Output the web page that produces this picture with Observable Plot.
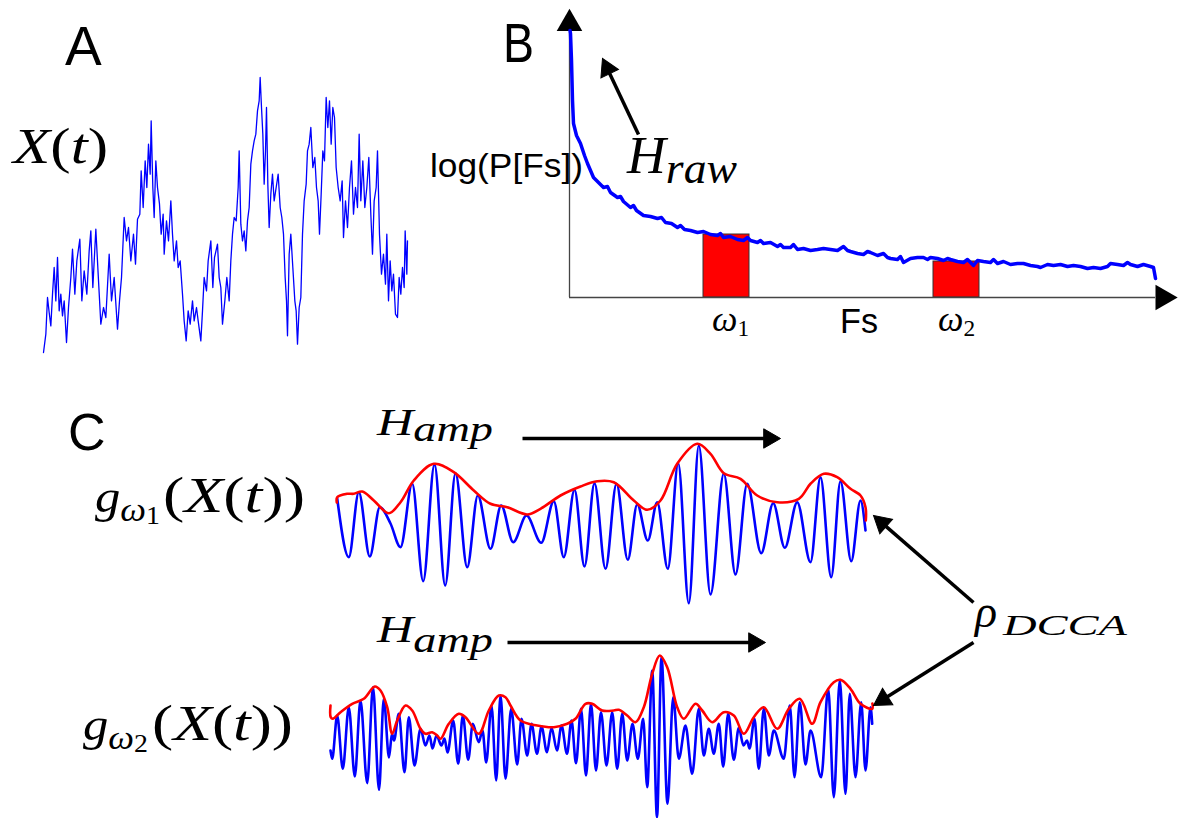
<!DOCTYPE html>
<html><head><meta charset="utf-8">
<script src="https://cdn.jsdelivr.net/npm/d3@7"></script>
<script src="https://cdn.jsdelivr.net/npm/@observablehq/plot@0.6"></script>
<style>
html,body{margin:0;padding:0;background:#fff;overflow:hidden;}
#fig{position:relative;width:1186px;height:818px;overflow:hidden;background:#fff;}
#fig svg{position:absolute;}
</style></head><body><div id="fig"></div>
<script>
// ---------- Panel A: raw signal X(t) ----------
const aTime = [128,135,140,145,150,155,160,165,170,175, 180,185,190,197,203,210,215,222,228,237,
 243,250,258,265,270,276,285,292,300,308, 315,325,332,340,350,356,362,370,377,383,
 390,398,404,410,417,421,427,433,438,443, 448,451,456,460,465,470,476,481,487,490,
 497,503,510,515,520,527,532,538,545,550, 556,562,568,575,580,587,592,600,605,610,
 617,622,630,636,641,650,655,660,665,672, 678,685,690,695,700,706,712,715,720,725,
 730,735,740,745,750,755,760,765,770,775, 778,782,786,790,794,797,801,805,810,815,
 820,826,832,838,843,848,853,857,860,865, 870,876,882,886,890,895,900,905,910,916,
 920,925,930,936,942,947,952,956,961,966, 971,976,981,986,991,996,1001,1006,1012,1018,
 1024,1028,1034,1040,1046,1052,1058,1064,1070,1075, 1080,1086,1092,1098,1104,1110,1115,1120,1126,1130,
 1136,1142,1148,1154,1158,1163,1168,1173,1178,1184, 1190,1195,1200,1205,1210,1213,1218,1220];
const aValue = [5,60,170,125,85,180,260,160,290,130, 180,115,160,35,140,230,315,180,280,345,
 160,250,180,310,370,200,375,240,90,140, 110,300,160,230,75,160,230,410,340,380,
 280,360,270,405,420,550,440,580,500,630, 540,700,500,410,580,500,450,360,420,300,
 400,340,460,360,280,340,260,280,180,100, 40,130,90,160,100,140,100,40,130,230,
 190,280,340,200,290,330,230,200,90,160, 230,160,280,360,410,400,500,610,390,340,
 370,310,400,440,570,610,640,660,730,760, 830,740,660,510,610,740,510,380,480,540,
 460,500,540,440,410,360,230,160,55,300, 360,260,160,130,30,140,170,360,460,510,
 610,630,680,560,590,500,460,360,480,610, 580,770,680,760,630,740,710,560,500,460,
 520,350,460,380,500,580,420,500,440,660, 460,580,440,500,590,420,300,460,500,610,
 360,240,300,210,360,160,280,190,240,120, 110,230,180,260,200,370,240,340];

// ---------- Panel B: power spectrum ----------
const bFreq = [0.5,1,2,3,4,7,11,15,18,21, 24,29,34,38,41,48,51,54,61,64,
 67,74,81,88,92,96,102,108,111,115, 121,128,134,141,148,151,154,161,168,174,
 178,181,188,191,194,201,208,211,214,221, 224,228,234,241,248,254,261,268,274,278,
 281,288,294,298,301,308,314,318,321,328, 331,334,341,348,354,358,361,368,374,378,
 381,388,394,398,404,408,414,421,424,428, 434,441,448,454,461,468,471,478,484,491,
 498,504,511,518,524,531,538,541,548,554, 558,561,568,574,581,584,586];
const bLogPower = [267,264,237,197,174,162,154,142,134,127, 120,115,110,111,105,100,101,96,90,92,
 87,82,81,79,80,75,74,70,72,68, 67,65,66,63,62,64,60,61,58,57,
 60,57,55,57,54,55,51,53,50,50, 53,48,49,47,48,49,48,47,51,47,
 46,44,43,46,45,42,44,40,39,38, 41,35,39,40,40,38,40,39,37,39,
 38,36,35,38,32,37,36,35,38,34, 36,33,34,34,32,31,30,33,32,33,
 31,32,31,29,30,29,31,34,33,32, 35,33,31,33,31,30,19];
const bandNames = ["ω1","ω2"];
const bandStart = [134, 364];
const bandEnd = [180, 410];
const bandTop = [63, 36];
const bAxisTop = 265, bAxisRight = 586;

// ---------- Panel C: band-filtered signals and envelopes ----------
const c1BlueT = [0.7,12.3,22.3,33.3,43.3,54,64,75.7,86.7,98, 108.7,119,130.7,141.3,154,164.7,176.7,190,204.7,217.3,
 227.3,238,248,258,269,280,291.3,300.7,311.3,320.7, 331.3,341.7,352.3,362.3,374,387.3,399,410.7,424.7,436.7,
 448.3,460.7,474,484,494.7,504,514.7,524,529];
const c1BlueA = [22,-36.7,28.3,-36,13.3,-3,-26.7,36.7,-60.7,56, -65,47.3,-46.7,25,-28.3,15,-21.7,5,-22.3,19.3,
 -36.7,30.7,-46,37.3,-48.3,36.7,-39.3,16,-20,18.3, -48.3,57.3,-82.7,75,-74,46.7,-54,36.7,-32.7,17.3,
 -27.3,18.3,-41.7,43.3,-56.7,39.3,-40.7,20,-10];
const c1RedT = [0.3,0.7,10.7,17.3,25.7,37.3,52.3,64,77.3,97.3, 117.3,137.3,154,170.7,190.7,204,224,244,260.7,277.3,
 297.3,310.7,324,340.7,360.7,374,387.3,404,420.7,440.7, 462.3,474,487.3,500.7,514,524,529,529.3];
const c1RedA = [18,23.3,26.7,26.7,29,20,7.3,18.3,40,56.7, 48.3,30,16.7,13.3,6,11.7,25,34,39.3,38.3,
 20,10.7,20,56.7,76.7,66.7,47.3,41.7,25,18.3, 21.7,36.7,46.7,43.3,31.7,25,13.3,0];

const c2BlueT = [0,1.7,6.7,12.3,18.3,24.3,30,36.7,42.5,48.5, 53.3,58.5,61.5,63.5,68.3,74,78.3,84,90,95,
 99,102,106,111,114,117,122.7,127.7,132.3,137.7, 142.3,148.3,152,155.7,161,165.7,170,175,180.7,186.7,
 191,196.7,201,206.5,211,216.5,221,226.5,231,236.5, 241,245.5,250.5,255.5,260.5,265.5,270.5,276,281.7,286.7,
 291.7,296.7,302,307.3,312.7,316.7,321.7,326.5,331,337, 342.7,348.3,355,361.7,368.3,373.3,378.3,383.3,388.3,392.7,
 397.7,403.3,408.3,413,416.5,419,424,428.3,433.3,438.3, 443.3,453.3,459.3,464,469.3,475,480,490.7,497.7,503.3,
 509.3,515,519.3,525,530.7,535,540,541.7];
const c2BlueA = [-10,-18.3,25,-28.3,33.3,-36,40,-42.7,53.3,-49.3, 41.7,-17,7,0,26.7,-31.7,23.3,-25,11.7,-5,
 5,-8,5,-5,2,-12,20,-23.3,25,-19.3, 16.7,-1.7,10,-22,35,-40,45,-38.3,31.7,-24,
 21.7,-15,16.7,-13.3,14,-11.7,12.7,-10,15,-13.3, 20,-22.7,31.7,-35,36.7,-30,28.3,-25,28.3,-28.3,
 26.7,-20,16.7,-18.3,21.7,-46.7,70,-76.7,83.3,-63.3, 43.3,-18.3,15,-33.3,31.7,-15,11.7,-13.3,16.7,-26,
 26.7,-19.3,12.7,-5,0,-8,21.7,-28.3,31.7,-15, 10,-18.3,35,-36.7,38.3,-24,10,-36.7,51.7,-56.7,
 60,-53.3,46.7,-36.7,38.3,-30,33.3,16.7];
const c2RedT = [0,0.2,2.3,10,21.7,33.3,44.3,50,56.7,61.7, 66.7,75,81.7,90,95,101.7,106.7,110,118.3,128.3,
 135,148.3,158.3,168.3,175,180,190,206.7,223.3,236.7, 245,255,261.7,271.7,283.3,288.3,296.7,305,313.3,321.7,
 329.3,336.7,346.7,353.3,365,371.7,381.7,393.3,403.3,413.3, 423.3,433.3,446.7,458.3,469.3,481.7,490,503.3,510,520,
 530,541.7,541.9];
const c2RedA = [35,23.3,21.7,28.3,36.7,41.7,54,50,33.3,6.7, 20,35,30,11.7,6.7,8.3,5,1.7,16.7,26.7,
 23.3,6.7,30,45,43.3,35,20,15,13.3,16.7, 21.7,36.7,36.7,30,30,30.7,25,18.3,33.3,66.7,
 85,73.3,33.3,21.7,36.7,30,18.3,28.3,25,6.7, 23.3,33.3,11.7,31.7,41.7,16.7,38.3,58.3,60.7,51.7,
 36.7,31.7,37];

// annotation arrows (in each panel's data units; 1 unit = 1 px in every panel)
const bArrows = [{x1:69, y1:163, x2:33, y2:239}];
const c1Arrows = [{x1:186, y1:82, x2:444, y2:82}, {x1:637, y1:-82, x2:537, y2:5}];
const c2Arrows = [{x1:177, y1:98, x2:435, y2:98}, {x1:643, y1:98, x2:543, y2:35}];

const BLUE = "#0000ff", RED = "#ff0000";
const SANS = "'Liberation Sans', Arial, sans-serif";
const SERIF = "'Liberation Serif', 'Times New Roman', serif";

const fig = document.getElementById("fig");
function place(svg, left, top) {
  svg.style.left = left + "px";
  svg.style.top = top + "px";
  fig.appendChild(svg);
}
const zip = (t, v) => t.map((d, i) => ({t: d, v: v[i]}));
const st = {background: "transparent", overflow: "visible"};

// arrow = shaft (link) + solid triangular head (dot) placed at the tip
function arrowMarks(arrows, r = 7.2) {
  const apex = 2 * Math.sqrt(Math.PI * r * r / (3 * Math.sqrt(3)));
  const heads = arrows.map(a => {
    const dx = a.x2 - a.x1, dy = a.y2 - a.y1, L = Math.hypot(dx, dy);
    return {x1: a.x1, y1: a.y1, cx: a.x2 - dx / L * apex, cy: a.y2 - dy / L * apex,
            rot: Math.atan2(dx, dy) * 180 / Math.PI};
  });
  return [
    Plot.link(heads, {x1: "x1", y1: "y1", x2: "cx", y2: "cy", stroke: "black", strokeWidth: 3.5}),
    Plot.dot(heads, {x: "cx", y: "cy", rotate: "rot", symbol: "triangle", r, fill: "black", stroke: "black", strokeWidth: 1})
  ];
}

// Panel A
{
  const M = 6;
  const svg = Plot.plot({
    width: 364 + 2 * M, height: 276.7 + 2 * M, margin: M, style: st,
    x: {domain: [128, 1220], axis: null}, y: {domain: [0, 830], axis: null},
    marks: [Plot.line(zip(aTime, aValue), {x: "t", y: "v", stroke: BLUE, strokeWidth: 1.3})]
  });
  place(svg, 42.7 - M, 76.7 - M);
}

// Panel B
{
  const M = 10;
  const bands = bandNames.map((n, i) => ({name: n, start: bandStart[i], end: bandEnd[i], top: bandTop[i]}));
  const svg = Plot.plot({
    width: 586 + 2 * M, height: 267 + 2 * M, margin: M, style: st,
    x: {domain: [0, 586], axis: null}, y: {domain: [0, 267], axis: null},
    marks: [
      Plot.rect(bands, {x1: "start", x2: "end", y1: 0, y2: "top", fill: RED, stroke: "#333", strokeWidth: 1}),
      Plot.ruleX([0], {y1: 0, y2: bAxisTop, stroke: "#444", strokeWidth: 1.3}),
      Plot.ruleY([0], {x1: 0, x2: bAxisRight, stroke: "#444", strokeWidth: 1.3}),
      Plot.dot([{x: 0, y: 274}], {x: "x", y: "y", symbol: "triangle", r: 9.5, fill: "black"}),
      Plot.dot([{x: 593.4, y: 0}], {x: "x", y: "y", symbol: "triangle", r: 9.5, fill: "black", rotate: 90}),
      Plot.line(zip(bFreq, bLogPower), {x: "t", y: "v", stroke: BLUE, strokeWidth: 3.5, strokeLinejoin: "round"}),
      ...arrowMarks(bArrows)
    ]
  });
  place(svg, 569 - M, 30 - M);
}

// Panel C, top
{
  const M = 10;
  const svg = Plot.plot({
    width: 529 + 2 * M, height: 165 + 2 * M, margin: M, style: st,
    x: {domain: [0, 529], axis: null}, y: {domain: [-85, 80], axis: null},
    marks: [
      Plot.line(zip(c1BlueT, c1BlueA), {x: "t", y: "v", stroke: BLUE, strokeWidth: 2.6, curve: "monotone-x"}),
      Plot.line(zip(c1RedT, c1RedA), {x: "t", y: "v", stroke: RED, strokeWidth: 2.6, curve: "catmull-rom"}),
      ...arrowMarks(c1Arrows)
    ]
  });
  place(svg, 336 - M, 440 - M);
}

// Panel C, bottom
{
  const M = 10;
  const svg = Plot.plot({
    width: 542 + 2 * M, height: 165 + 2 * M, margin: M, style: st,
    x: {domain: [0, 542], axis: null}, y: {domain: [-80, 85], axis: null},
    marks: [
      Plot.line(zip(c2BlueT, c2BlueA), {x: "t", y: "v", stroke: BLUE, strokeWidth: 2.6, curve: "monotone-x"}),
      Plot.line(zip(c2RedT, c2RedA), {x: "t", y: "v", stroke: RED, strokeWidth: 2.6, curve: "catmull-rom"}),
      ...arrowMarks(c2Arrows)
    ]
  });
  place(svg, 330 - M, 655 - M);
}

// Text labels (real text, layered on top)
const labels = [
  {x: 65, y: 65, size: 55, family: SANS, parts: [["A", 0, 1, 0]]},
  {x: 503, y: 62, size: 55, family: SANS, parts: [["B", 0, 1, 0]], len: 31},
  {x: 68, y: 450, size: 52, family: SANS, parts: [["C", 0, 1, 0]]},
  {x: 13, y: 163, size: 50, family: SERIF, len: 95, parts: [["X", 1, 1, 0], ["(", 0, 1, 0], ["t", 1, 1, 0], [")", 0, 1, 0]]},
  {x: 430, y: 177, size: 33, family: SANS, len: 153, parts: [["log(P[Fs])", 0, 1, 0]]},
  {x: 840, y: 333, size: 35, family: SANS, len: 38, parts: [["Fs", 0, 1, 0]]},
  {x: 712, y: 331, size: 36, family: SERIF, parts: [["ω", 1, 1, 0], ["1", 0, 0.65, 5]]},
  {x: 938, y: 331, size: 36, family: SERIF, parts: [["ω", 1, 1, 0], ["2", 0, 0.65, 5]]},
  {x: 627, y: 173, size: 52, family: SERIF, len: 110, parts: [["H", 1, 1, 0], ["raw", 1, 0.85, 10]]},
  {x: 377, y: 435, size: 38, family: SERIF, len: 116, parts: [["H", 1, 1, 0], ["amp", 1, 0.92, 6]]},
  {x: 377, y: 642, size: 38, family: SERIF, len: 116, parts: [["H", 1, 1, 0], ["amp", 1, 0.92, 10]]},
  {x: 95, y: 512, size: 46, family: SERIF, len: 65, parts: [["g", 1, 1, 0], ["ω", 1, 0.72, 9], ["1", 0, 0.55, 12]]},
  {x: 163, y: 512, size: 50, family: SERIF, len: 142, parts: [["(", 0, 1, 0], ["X", 1, 1, 0], ["(", 0, 1, 0], ["t", 1, 1, 0], [")", 0, 1, 0], [")", 0, 1, 0]]},
  {x: 83, y: 740, size: 46, family: SERIF, len: 65, parts: [["g", 1, 1, 0], ["ω", 1, 0.72, 9], ["2", 0, 0.55, 12]]},
  {x: 152, y: 740, size: 50, family: SERIF, len: 141, parts: [["(", 0, 1, 0], ["X", 1, 1, 0], ["(", 0, 1, 0], ["t", 1, 1, 0], [")", 0, 1, 0], [")", 0, 1, 0]]},
  {x: 975, y: 627, size: 46, family: SERIF, parts: [["ρ", 1, 1, 0]]},
  {x: 1003, y: 635, size: 30, family: SERIF, len: 124, parts: [["DCCA", 1, 1, 0]]}
];
const overlay = d3.create("svg").attr("width", 1186).attr("height", 818)
  .style("left", "0px").style("top", "0px").style("pointer-events", "none");
for (const L of labels) {
  const t = overlay.append("text").attr("x", L.x).attr("y", L.y)
    .attr("font-family", L.family).attr("font-size", L.size).attr("fill", "#000");
  if (L.len) t.attr("textLength", L.len).attr("lengthAdjust", "spacingAndGlyphs");
  let prev = 0;
  for (const [s, it, sc, off] of L.parts) {
    t.append("tspan").text(s).attr("font-style", it ? "italic" : "normal")
      .attr("font-size", L.size * sc).attr("dy", off - prev);
    prev = off;
  }
}
fig.appendChild(overlay.node());
</script></body></html>
